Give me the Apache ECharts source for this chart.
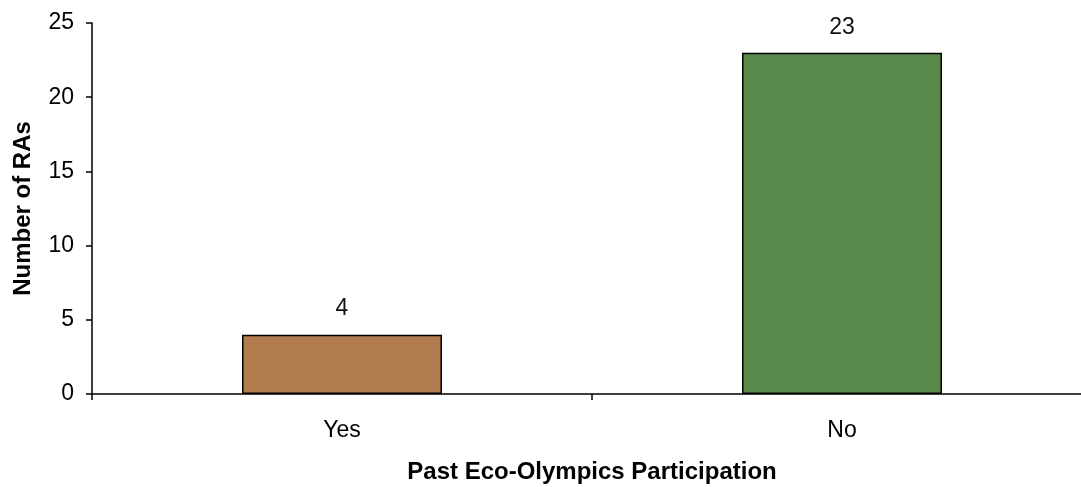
<!DOCTYPE html>
<html>
<head>
<meta charset="utf-8">
<script src="https://cdn.jsdelivr.net/npm/echarts@6/dist/echarts.min.js"></script>
<style>html,body{margin:0;padding:0;background:#fff}#c{width:1081px;height:487px}</style>
</head>
<body>
<div id="c"></div>
<script>
const categories = ['Yes', 'No'];
const values = [4, 23];
const barColors = ['#b07c4e', '#5a8a4b'];
const yTicks = [0, 5, 10, 15, 20, 25];

const chart = echarts.init(document.getElementById('c'));
const font = '"Liberation Sans", Arial, sans-serif';
chart.setOption({
  animation: false,
  grid: { left: 92, top: 23, bottom: 93, width: 1000, containLabel: false, outerBoundsMode: 'none' },
  xAxis: {
    type: 'category',
    data: categories,
    name: 'Past Eco-Olympics Participation',
    nameLocation: 'middle',
    nameGap: 66,
    nameTextStyle: { fontFamily: font, fontWeight: 'bold', fontSize: 24, color: '#000' },
    axisLine: { lineStyle: { color: '#000', width: 1.5 } },
    axisTick: { show: true, length: 6, lineStyle: { color: '#000', width: 1.5 } },
    axisLabel: { fontFamily: font, fontSize: 23, color: '#000', margin: 25 }
  },
  yAxis: {
    type: 'value',
    min: yTicks[0],
    max: yTicks[yTicks.length - 1],
    interval: 5,
    name: 'Number of RAs',
    nameLocation: 'middle',
    nameGap: 57,
    nameTextStyle: { fontFamily: font, fontWeight: 'bold', fontSize: 24, color: '#000' },
    axisLine: { show: true, lineStyle: { color: '#000', width: 1.5 } },
    axisTick: { show: true, length: 6, lineStyle: { color: '#000', width: 1.5 } },
    axisLabel: { fontFamily: font, fontSize: 23, color: '#000', margin: 18 },
    splitLine: { show: false }
  },
  series: [{
    type: 'bar',
    barWidth: 200,
    data: values.map((v, i) => ({ value: v, itemStyle: { color: barColors[i] } })),
    itemStyle: { borderColor: '#000', borderWidth: 1.5 },
    label: { show: true, position: 'top', distance: 14, fontFamily: font, fontSize: 23, color: '#111' }
  }]
});
</script>
</body>
</html>
